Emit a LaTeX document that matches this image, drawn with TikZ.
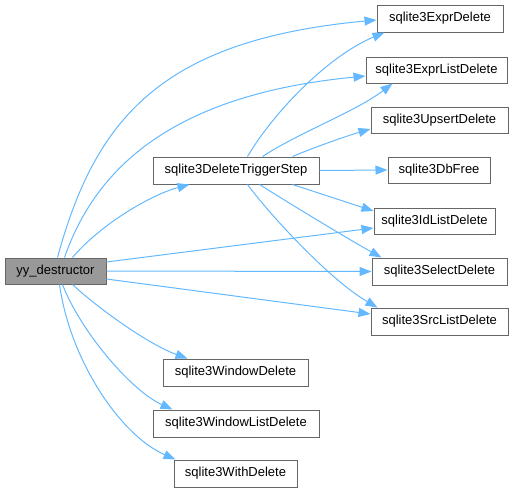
\documentclass[tikz,border=0pt]{standalone}
\usepackage{fontspec}
\setmainfont{Liberation Sans}
\usetikzlibrary{arrows.meta,calc}
\definecolor{edgecol}{HTML}{63B8FF}
\definecolor{bordercol}{HTML}{666666}
\definecolor{rootfill}{HTML}{999999}
\begin{document}
\begin{tikzpicture}[x=1pt,y=-1pt,
  fn/.style={draw=bordercol,line width=1pt,fill=white,inner sep=0pt,
    font=\fontsize{13}{15}\selectfont,text=black},
  root/.style={fn,fill=rootfill},
  call/.style={draw=edgecol,line width=1pt,-{Triangle[length=12pt,width=9pt]}}]
\useasboundingbox (0,0) rectangle (518,493);
\node[root,minimum width=101pt,minimum height=26pt] (yy) at (55.5,271) {yy\_destructor};
\node[fn,minimum width=166pt,minimum height=27pt] (dts) at (236,170.5) {sqlite3DeleteTriggerStep};
\node[fn,minimum width=126pt,minimum height=27pt] (expr) at (440,18.5) {sqlite3ExprDelete};
\node[fn,minimum width=141pt,minimum height=26pt] (exprl) at (436.5,70) {sqlite3ExprListDelete};
\node[fn,minimum width=137pt,minimum height=26pt] (ups) at (439.5,120) {sqlite3UpsertDelete};
\node[fn,minimum width=102pt,minimum height=26pt] (dbf) at (439,170) {sqlite3DbFree};
\node[fn,minimum width=121pt,minimum height=26pt] (idl) at (434.5,221) {sqlite3IdListDelete};
\node[fn,minimum width=135pt,minimum height=27pt] (sel) at (439.5,271.5) {sqlite3SelectDelete};
\node[fn,minimum width=137pt,minimum height=27pt] (src) at (439.5,321.5) {sqlite3SrcListDelete};
\node[fn,minimum width=145pt,minimum height=27pt] (win) at (235.5,372.5) {sqlite3WindowDelete};
\node[fn,minimum width=166pt,minimum height=27pt] (winl) at (236,423.5) {sqlite3WindowListDelete};
\node[fn,minimum width=123pt,minimum height=27pt] (with) at (235.5,473.5) {sqlite3WithDelete};
% yy_destructor calls
\draw[call] ($(yy.north west)+(53,0)$) .. controls (95,120) and (160,40) .. ($(expr.west)+(0,1.5)$);
\draw[call] ($(yy.north west)+(60,0)$) .. controls (95,170) and (170,95) .. ($(exprl.west)+(0,6)$);
\draw[call] ($(yy.north west)+(68,0)$) .. controls (100,225) and (150,195) .. ($(dts.south west)+(37,0)$);
\draw[call] ($(yy.east)+(0,-9)$) -- ($(idl.west)+(0,7)$);
\draw[call] (yy.east) -- (sel.west);
\draw[call] ($(yy.east)+(0,8)$) -- ($(src.west)+(0,-7.5)$);
\draw[call] ($(yy.south west)+(68,0)$) .. controls (100,310) and (150,345) .. ($(win.north west)+(25,0)$);
\draw[call] ($(yy.south west)+(58,0)$) .. controls (80,330) and (130,390) .. ($(winl.north west)+(20,0)$);
\draw[call] ($(yy.south west)+(55,0)$) .. controls (70,360) and (120,435) .. ($(with.north west)+(2,0)$);
% sqlite3DeleteTriggerStep calls
\draw[call] ($(dts.north west)+(95,0)$) .. controls (275,110) and (330,55) .. ($(expr.south west)+(8,0)$);
\draw[call] ($(dts.north west)+(110,0)$) .. controls (300,132) and (355,112) .. ($(exprl.south west)+(27,0)$);
\draw[call] ($(dts.north west)+(140,0)$) .. controls (320,145) and (350,135) .. ($(ups.west)+(0,9)$);
\draw[call] (dts.east) -- (dbf.west);
\draw[call] ($(dts.south west)+(140,0)$) -- ($(idl.west)+(0,-10)$);
\draw[call] ($(dts.south west)+(107,0)$) .. controls (300,210) and (350,240) .. ($(sel.north west)+(10,0)$);
\draw[call] ($(dts.south west)+(95,0)$) .. controls (270,215) and (330,280) .. ($(src.north west)+(7,0)$);
\end{tikzpicture}
\end{document}
